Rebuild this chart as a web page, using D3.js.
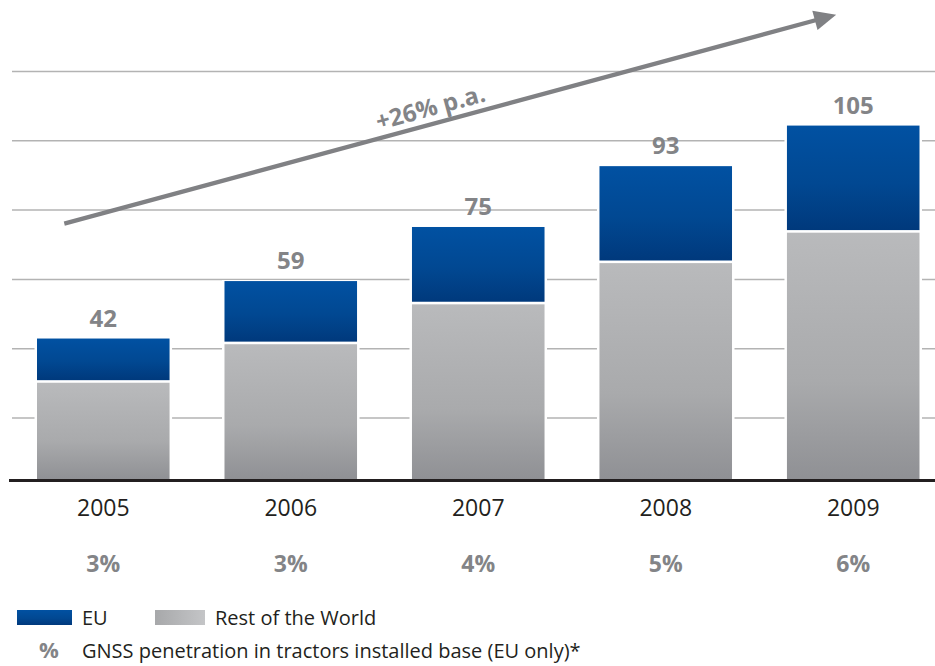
<!DOCTYPE html>
<html>
<head>
    <meta charset="utf-8">
    <title>GNSS tractors</title>
    <script type="text/javascript" src="https://cdn.jsdelivr.net/npm/d3@7"></script>
    <style>
        body { margin: 0; background: #fff; }
        svg text { font-family: "Open Sans", "Noto Sans", sans-serif; }
    </style>
</head>
<body>
<script type="text/javascript">

    // data
    var years = ['2005', '2006', '2007', '2008', '2009'];
    var restOfWorld = [29.3, 40.7, 52.5, 64.7, 73.7];
    var eu = [12.7, 18.3, 22.5, 28.3, 31.3];
    var totals = [42, 59, 75, 93, 105];
    var penetration = ['3%', '3%', '4%', '5%', '6%'];
    var gridTicks = [18.5, 39, 59.5, 80, 100.5, 121];
    var growthLabel = '+26% p.a.';
    // arrow ends, x as bar index, y as value
    var arrowPts = [[-0.208, 76], [3.909, 137.8]];

    var width = 935,
        height = 666;

    var x = d3.scaleBand()
        .domain(years)
        .range([9.5, 947])
        .paddingInner(0.293)
        .paddingOuter(0.1467);

    var y = d3.scaleLinear()
        .domain([0, 121])
        .range([480.5, 71.5]);

    var xi = d3.scaleLinear()
        .domain([0, years.length - 1])
        .range([x(years[0]) + x.bandwidth() / 2, x(years[4]) + x.bandwidth() / 2]);

    var svg = d3.select('body').append('svg')
        .attr('width', width)
        .attr('height', height);

    var defs = svg.append('defs');

    var gBlue = defs.append('linearGradient').attr('id', 'gBlue')
        .attr('x1', 0).attr('y1', 0).attr('x2', 0).attr('y2', 1);
    gBlue.append('stop').attr('offset', '0%').attr('stop-color', '#0151a2');
    gBlue.append('stop').attr('offset', '55%').attr('stop-color', '#014892');
    gBlue.append('stop').attr('offset', '100%').attr('stop-color', '#00397c');

    var gGrey = defs.append('linearGradient').attr('id', 'gGrey')
        .attr('x1', 0).attr('y1', 0).attr('x2', 0).attr('y2', 1);
    gGrey.append('stop').attr('offset', '0%').attr('stop-color', '#b9babc');
    gGrey.append('stop').attr('offset', '60%').attr('stop-color', '#a9aaac');
    gGrey.append('stop').attr('offset', '100%').attr('stop-color', '#8f9094');

    var gGreyH = defs.append('linearGradient').attr('id', 'gGreyH')
        .attr('x1', 0).attr('y1', 0).attr('x2', 1).attr('y2', 0);
    gGreyH.append('stop').attr('offset', '0%').attr('stop-color', '#a7a8aa');
    gGreyH.append('stop').attr('offset', '100%').attr('stop-color', '#c4c5c7');

    // grid lines
    svg.append('g')
        .selectAll('line')
        .data(gridTicks)
        .enter().append('line')
            .attr('x1', 12)
            .attr('x2', width)
            .attr('y1', function(d){ return y(d); })
            .attr('y2', function(d){ return y(d); })
            .attr('stroke', '#b3b3b3')
            .attr('stroke-width', 1.5);

    var stacks = years.map(function(yr, i){
        return {year: yr, row: restOfWorld[i], eu: eu[i], total: totals[i], pen: penetration[i]};
    });

    var bars = svg.append('g')
        .selectAll('g')
        .data(stacks)
        .enter().append('g');

    // white halo so the grid stops short of the bars
    bars.append('rect')
        .attr('x', function(d){ return x(d.year) - 2.5; })
        .attr('width', x.bandwidth() + 5)
        .attr('y', function(d){ return y(d.row + d.eu) - 1; })
        .attr('height', function(d){ return y(0) - y(d.row + d.eu) + 1; })
        .attr('fill', '#fff');

    bars.append('rect')
        .attr('x', function(d){ return x(d.year); })
        .attr('width', x.bandwidth())
        .attr('y', function(d){ return y(d.row) + 1.3; })
        .attr('height', function(d){ return y(0) - y(d.row) - 1.3; })
        .attr('fill', 'url(#gGrey)');

    bars.append('rect')
        .attr('x', function(d){ return x(d.year); })
        .attr('width', x.bandwidth())
        .attr('y', function(d){ return y(d.row + d.eu); })
        .attr('height', function(d){ return y(d.row) - y(d.row + d.eu) - 1.3; })
        .attr('fill', 'url(#gBlue)');

    // totals above the bars
    bars.append('text')
        .attr('x', function(d){ return x(d.year) + x.bandwidth() / 2; })
        .attr('y', function(d){ return y(d.total) - 12; })
        .attr('text-anchor', 'middle')
        .attr('font-size', 24)
        .attr('font-weight', 'bold')
        .attr('fill', '#838487')
        .text(function(d){ return d.total; });

    // baseline
    svg.append('line')
        .attr('x1', 9)
        .attr('x2', width)
        .attr('y1', y(0))
        .attr('y2', y(0))
        .attr('stroke', '#231f20')
        .attr('stroke-width', 3.2);

    // years
    var axisX = d3.axisBottom(x).tickSize(0).tickPadding(0);
    var axisG = svg.append('g')
        .attr('transform', 'translate(0,' + 500 + ')')
        .call(axisX);
    axisG.select('.domain').remove();
    axisG.selectAll('text')
        .attr('dy', '0.71em')
        .attr('y', 0)
        .style('font-family', '"Open Sans", sans-serif')
        .attr('font-size', 23)
        .attr('fill', '#231f20');

    // penetration row
    svg.append('g')
        .selectAll('text')
        .data(stacks)
        .enter().append('text')
            .attr('x', function(d){ return x(d.year) + x.bandwidth() / 2; })
            .attr('y', 572)
            .attr('text-anchor', 'middle')
            .attr('font-size', 23)
            .attr('font-weight', 'bold')
            .attr('fill', '#838487')
            .text(function(d){ return d.pen; });

    // growth arrow
    var p0 = [xi(arrowPts[0][0]), y(arrowPts[0][1])],
        p1 = [xi(arrowPts[1][0]), y(arrowPts[1][1])];
    var ang = Math.atan2(p1[1] - p0[1], p1[0] - p0[0]);
    var headLen = 22, headW = 10;
    var lineEnd = [p1[0] - headLen * 0.8 * Math.cos(ang), p1[1] - headLen * 0.8 * Math.sin(ang)];

    svg.append('line')
        .attr('x1', p0[0]).attr('y1', p0[1])
        .attr('x2', lineEnd[0]).attr('y2', lineEnd[1])
        .attr('stroke', '#808184')
        .attr('stroke-width', 4.2);

    var bx = p1[0] - headLen * Math.cos(ang),
        by = p1[1] - headLen * Math.sin(ang);
    svg.append('path')
        .attr('d', 'M' + p1[0] + ',' + p1[1] +
            'L' + (bx + headW * Math.sin(ang)) + ',' + (by - headW * Math.cos(ang)) +
            'L' + (bx - headW * Math.sin(ang)) + ',' + (by + headW * Math.cos(ang)) + 'Z')
        .attr('fill', '#808184');

    var t = 0.48;
    var mx = p0[0] + (p1[0] - p0[0]) * t,
        my = p0[1] + (p1[1] - p0[1]) * t;
    svg.append('text')
        .attr('transform', 'translate(' + mx + ',' + my + ') rotate(' + (ang * 180 / Math.PI) + ')')
        .attr('y', -8)
        .attr('text-anchor', 'middle')
        .attr('font-size', 24)
        .attr('font-weight', 'bold')
        .attr('fill', '#838487')
        .text(growthLabel);

    // legend
    var legend = svg.append('g');
    legend.append('rect').attr('x', 17).attr('y', 610).attr('width', 55).attr('height', 15).attr('fill', 'url(#gBlue)');
    legend.append('text').attr('x', 82).attr('y', 625).attr('font-size', 20).attr('fill', '#231f20').text('EU');
    legend.append('rect').attr('x', 155).attr('y', 610).attr('width', 50).attr('height', 15).attr('fill', 'url(#gGreyH)');
    legend.append('text').attr('x', 215).attr('y', 625).attr('font-size', 20).attr('fill', '#231f20').text('Rest of the World');
    legend.append('text').attr('x', 39).attr('y', 658).attr('font-size', 22).attr('font-weight', 'bold').attr('fill', '#838487').text('%');
    legend.append('text').attr('x', 82).attr('y', 658).attr('font-size', 20).attr('fill', '#231f20')
        .text('GNSS penetration in tractors installed base (EU only)*');

</script>
</body>
</html>
